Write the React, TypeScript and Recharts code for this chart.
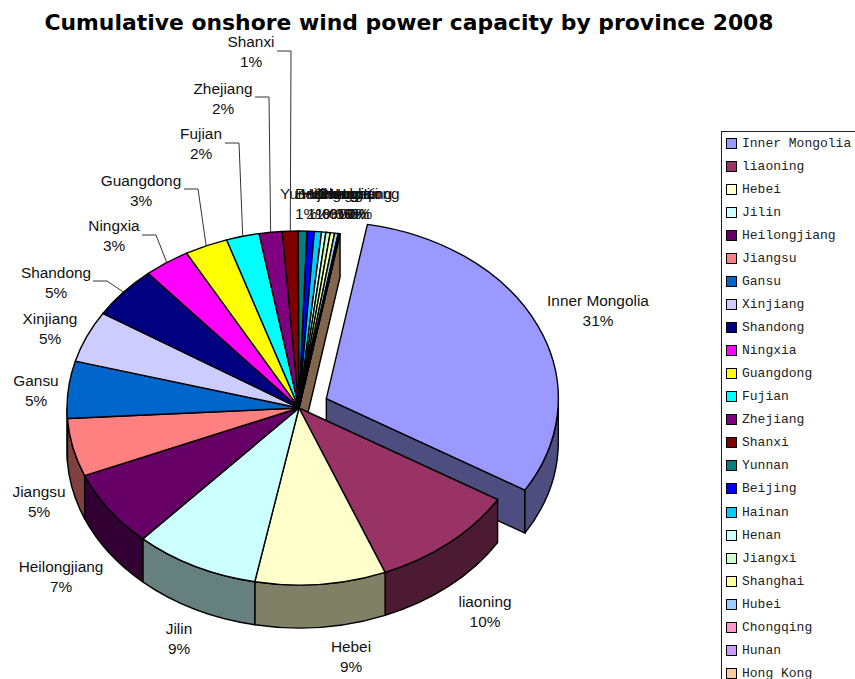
import React from "react";
import { PieChart, Pie, Legend } from "recharts";

// Provinces in legend order with their share of cumulative capacity, plus slice colours.
const provinces = [
  "Inner Mongolia", "liaoning", "Hebei", "Jilin", "Heilongjiang", "Jiangsu", "Gansu", "Xinjiang",
  "Shandong", "Ningxia", "Guangdong", "Fujian", "Zhejiang", "Shanxi", "Yunnan", "Beijing",
  "Hainan", "Henan", "Jiangxi", "Shanghai", "Hubei", "Chongqing", "Hunan", "Hong Kong",
];
const shares = [
  30.8, 10.3, 9.1, 8.7, 7.0, 5.3, 5.2, 4.7, 4.78, 3.2, 3.0, 2.3,
  1.6, 1.1, 0.6, 0.5, 0.5, 0.3, 0.3, 0.3, 0.25, 0.1, 0.02, 0.01,
];
const colors = [
  "#9999FF", "#993366", "#FFFFCC", "#CCFFFF", "#660066", "#FF8080", "#0066CC", "#CCCCFF",
  "#000080", "#FF00FF", "#FFFF00", "#00FFFF", "#800080", "#800000", "#008080", "#0000FF",
  "#00CCFF", "#CCFFFF", "#CCFFCC", "#FFFF99", "#99CCFF", "#FF99CC", "#CC99FF", "#FFCC99",
];

const chartData = provinces.map((name, i) => ({ name, value: shares[i], fill: colors[i] }));

// Where each label sits: centre x and first-line y, with the optional leader knee.
const labelSpots: Record<string, { x: number; y: number; knee?: [number, number] }> = {
  "Inner Mongolia": { x: 598, y: 306 },
  liaoning: { x: 485, y: 607 },
  Hebei: { x: 351, y: 652 },
  Jilin: { x: 179, y: 634 },
  Heilongjiang: { x: 61, y: 572 },
  Jiangsu: { x: 39, y: 497 },
  Gansu: { x: 36, y: 386 },
  Xinjiang: { x: 50, y: 324 },
  Shandong: { x: 56, y: 278, knee: [107, 281] },
  Ningxia: { x: 114, y: 231, knee: [156, 235] },
  Guangdong: { x: 141, y: 186, knee: [198, 189] },
  Fujian: { x: 201, y: 139, knee: [239, 143] },
  Zhejiang: { x: 223, y: 94, knee: [269, 97] },
  Shanxi: { x: 251, y: 47, knee: [291, 51] },
  Yunnan: { x: 306, y: 199 },
  Beijing: { x: 318, y: 199 },
  Hainan: { x: 326, y: 199 },
  Henan: { x: 333, y: 199 },
  Jiangxi: { x: 340, y: 199 },
  Shanghai: { x: 346, y: 199 },
  Hubei: { x: 350, y: 199 },
  Chongqing: { x: 355, y: 199 },
  Hunan: { x: 358, y: 199 },
  "Hong Kong": { x: 361, y: 199 },
};

const WIDTH = 855;
const HEIGHT = 679;
const CENTER_X = 299;
const CENTER_Y = 408;
const RADIUS = 232;
const SQUASH = 0.763;
const DEPTH = 43;
const EXPLODE = 30;
const START_ANGLE = 79.8;
const EDGE = "#000";
const EXPLODED = "Inner Mongolia";

const darken = (hex: string) => {
  const n = parseInt(hex.slice(1), 16);
  const half = (v: number) => Math.round(v / 2).toString(16).padStart(2, "0");
  return `#${half((n >> 16) & 255)}${half((n >> 8) & 255)}${half(n & 255)}`;
};

const RAD = Math.PI / 180;

// Point on the tilted rim of the disc.
const rim = (cx: number, cy: number, r: number, deg: number): [number, number] => [
  cx + r * Math.cos(deg * RAD),
  cy - r * SQUASH * Math.sin(deg * RAD),
];

// Exploded slices are pushed outward along their middle angle.
const sliceCentre = (p: any): [number, number] => {
  if (p.name !== EXPLODED && p.payload?.name !== EXPLODED) return [p.cx, p.cy];
  const mid = (p.startAngle + p.endAngle) / 2;
  return rim(p.cx, p.cy, EXPLODE, mid);
};

const TopFace = (p: any) => {
  const [cx, cy] = sliceCentre(p);
  const r = p.outerRadius;
  const [x0, y0] = rim(cx, cy, r, p.startAngle);
  const [x1, y1] = rim(cx, cy, r, p.endAngle);
  const large = Math.abs(p.startAngle - p.endAngle) > 180 ? 1 : 0;
  const d = `M${cx},${cy}L${x0},${y0}A${r},${r * SQUASH} 0 ${large} 1 ${x1},${y1}Z`;
  return <path d={d} fill={p.fill} stroke={EDGE} strokeWidth={1.4} strokeLinejoin="round" />;
};

const SideWall = (p: any) => {
  const [cx, cy] = sliceCentre(p);
  const r = p.outerRadius;
  const name = p.payload?.name ?? p.name;
  const shade = darken(p.fill);
  const hi = Math.min(p.startAngle, 0);
  const lo = Math.max(p.endAngle, -180);
  const parts: React.ReactNode[] = [];
  const showsCut = name === EXPLODED || name === provinces[provinces.length - 1];
  if (showsCut) {
    const [ex, ey] = rim(cx, cy, r, p.endAngle);
    parts.push(
      <path
        key="cut"
        d={`M${cx},${cy}L${ex},${ey}L${ex},${ey + DEPTH}L${cx},${cy + DEPTH}Z`}
        fill={shade}
        stroke={EDGE}
        strokeWidth={1.4}
        strokeLinejoin="round"
      />,
    );
  }
  if (hi > lo) {
    const [x0, y0] = rim(cx, cy, r, hi);
    const [x1, y1] = rim(cx, cy, r, lo);
    const ry = r * SQUASH;
    parts.push(
      <path
        key="rim"
        d={`M${x0},${y0}A${r},${ry} 0 0 1 ${x1},${y1}L${x1},${y1 + DEPTH}A${r},${ry} 0 0 0 ${x0},${y0 + DEPTH}Z`}
        fill={shade}
        stroke={EDGE}
        strokeWidth={1.4}
        strokeLinejoin="round"
      />,
    );
  }
  return <g>{parts}</g>;
};

const SliceLabel = (p: any) => {
  const name = p.payload?.name ?? p.name;
  const spot = labelSpots[name];
  if (!spot) return null;
  const font = { fontFamily: "'Liberation Sans', Arial, sans-serif", fontSize: 15.4, fill: "#111" };
  const pct = `${Math.round(p.percent * 100)}%`;
  let leader: React.ReactNode = null;
  if (spot.knee) {
    const [kx, ky] = spot.knee;
    const [ex, ey] = rim(p.cx, p.cy, p.outerRadius, p.midAngle);
    leader = (
      <polyline
        points={`${kx - 14},${ky} ${kx},${ky} ${ex},${ey}`}
        fill="none"
        stroke="#333"
        strokeWidth={1}
      />
    );
  }
  return (
    <g>
      {leader}
      <text x={spot.x} y={spot.y} textAnchor="middle" {...font}>{name}</text>
      <text x={spot.x} y={spot.y + 20} textAnchor="middle" {...font}>{pct}</text>
    </g>
  );
};

const LegendBox = ({ payload }: any) => {
  // Both disc layers report to the legend; each province is listed once.
  const items = provinces
    .map((name) => (payload ?? []).find((item: any) => item.value === name))
    .filter(Boolean);
  return (
    <div
      style={{
        width: 150,
        height: 560,
        boxSizing: "border-box",
        border: "1px solid #222",
        background: "#fff",
        paddingLeft: 4,
      }}
    >
      {items.map((item: any) => (
        <div
          key={item.value}
          style={{
            height: 23.04,
            display: "flex",
            alignItems: "center",
            fontFamily: "'Liberation Mono', monospace",
            fontSize: 13,
            color: "#222",
            whiteSpace: "pre",
          }}
        >
          <span
            style={{
              width: 11,
              height: 11,
              boxSizing: "border-box",
              border: "1.5px solid #000",
              background: item.color,
              marginRight: 5,
              flex: "none",
            }}
          />
          {item.value}
        </div>
      ))}
    </div>
  );
};

export default function App() {
  return (
    <div style={{ position: "fixed", left: 0, top: 0, width: WIDTH, height: HEIGHT, overflow: "hidden", background: "#fff" }}>
      <PieChart width={WIDTH} height={HEIGHT} margin={{ top: 0, right: 0, bottom: 0, left: 0 }}>
        <text
          x={409}
          y={30}
          textAnchor="middle"
          style={{ fontFamily: "'DejaVu Sans', Verdana, sans-serif", fontWeight: 700, fontSize: 21.9, fill: "#000" }}
        >
          Cumulative onshore wind power capacity by province 2008
        </text>
        <Pie
          data={chartData}
          dataKey="value"
          nameKey="name"
          cx={CENTER_X}
          cy={CENTER_Y}
          outerRadius={RADIUS}
          startAngle={START_ANGLE}
          endAngle={START_ANGLE - 360}
          legendType="none"
          shape={SideWall}
          label={false}
          labelLine={false}
          isAnimationActive={false}
        />
        <Pie
          data={chartData}
          dataKey="value"
          nameKey="name"
          cx={CENTER_X}
          cy={CENTER_Y}
          outerRadius={RADIUS}
          startAngle={START_ANGLE}
          endAngle={START_ANGLE - 360}
          legendType="square"
          shape={TopFace}
          label={SliceLabel}
          labelLine={false}
          isAnimationActive={false}
        />
        <Legend
          layout="vertical"
          verticalAlign="middle"
          align="right"
          itemSorter={null}
          content={LegendBox}
          wrapperStyle={{ position: "absolute", left: 721, top: 131, right: "auto", bottom: "auto", width: 150 }}
        />
      </PieChart>
    </div>
  );
}
